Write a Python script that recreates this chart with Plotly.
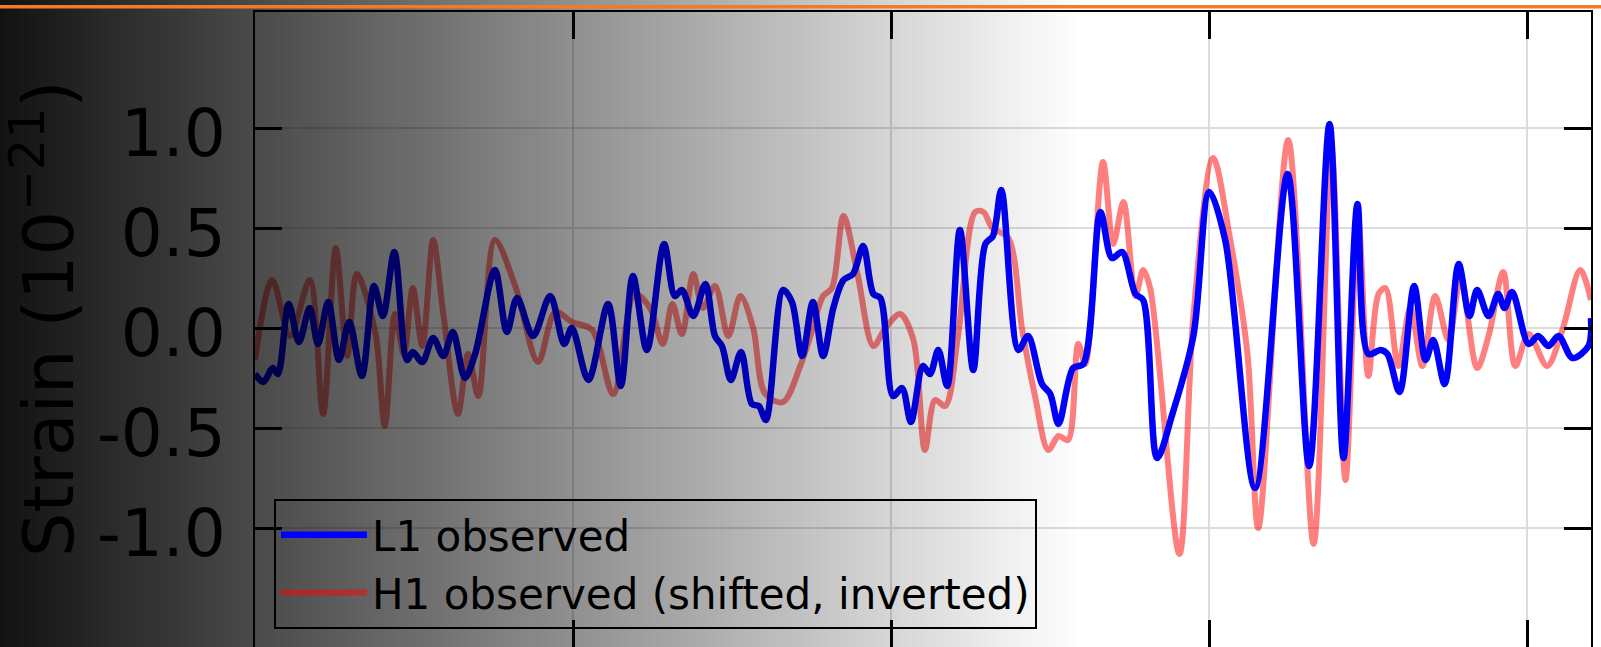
import plotly.graph_objects as go

# ---------------- data (time in ms, strain in 1e-21) ----------------
L1_t = [250.0, 251.3, 252.8, 253.6, 255.3, 256.9, 258.6, 259.9, 261.5, 263.2,
        264.8, 266.8, 268.7, 270.1, 271.9, 273.9, 274.8, 276.3, 278.0, 279.6,
        281.1, 283.0, 284.6, 287.7, 289.6, 291.2, 293.7, 296.4, 298.6, 299.8,
        302.4, 305.5, 307.5, 309.4, 311.6, 314.3, 316.0, 317.1, 318.9, 320.8,
        322.3, 323.4, 324.8, 326.4, 328.1, 329.2, 330.3, 333.0, 334.4, 336.0,
        337.7, 339.3, 340.9, 342.5, 344.0, 345.6, 347.2, 348.3, 350.3, 351.7,
        353.1, 355.0, 356.1, 357.4, 358.8, 360.8, 362.9, 364.8, 366.0, 367.3,
        370.0, 371.5, 373.7, 375.0, 376.3, 378.6, 380.2, 382.9, 384.7, 386.3,
        388.4, 389.6, 391.8, 394.2, 397.5, 400.0, 402.5, 407.2, 412.3, 415.7,
        418.9, 421.1, 423.3, 425.0, 426.9, 428.0, 429.9, 432.2, 434.0, 435.2,
        437.0, 439.2, 440.9, 442.1, 443.9, 445.4, 446.4, 447.6, 450.2, 451.7,
        453.3, 454.9, 457.1, 459.6, 460.0]
L1_strain = [-0.23, -0.27, -0.20, -0.23, 0.12, -0.07, 0.10, -0.08, 0.13, -0.16,
             0.03, -0.24, 0.21, 0.06, 0.38, -0.16, -0.12, -0.17, -0.05, -0.14,
             -0.02, -0.25, -0.13, 0.29, -0.02, 0.15, -0.04, 0.16, -0.08, 0.00,
             -0.26, 0.12, -0.29, 0.26, -0.11, 0.42, 0.16, 0.19, 0.06, 0.22,
             -0.04, -0.09, -0.26, -0.12, -0.38, -0.39, -0.46, 0.19, 0.13, -0.14,
             0.13, -0.14, 0.10, 0.24, 0.27, 0.41, 0.17, 0.15, -0.34, -0.30,
             -0.47, -0.19, -0.23, -0.11, -0.29, 0.49, -0.21, 0.42, 0.46, 0.69,
             -0.11, -0.04, -0.28, -0.33, -0.48, -0.20, -0.18, 0.58, 0.35, 0.38,
             0.17, 0.14, -0.65, -0.43, -0.04, 0.68, 0.44, -0.80, 0.77, -0.69,
             1.02, -0.65, 0.62, -0.13, -0.11, -0.13, -0.32, 0.21, -0.16, -0.06,
             -0.28, 0.32, 0.06, 0.19, 0.06, 0.17, 0.10, 0.18, -0.08, -0.04,
             -0.09, -0.04, -0.15, -0.09, 0.05]

H1_t = [250.0, 252.7, 255.5, 258.6, 260.7, 262.7, 264.5, 266.0, 268.9, 270.4,
        272.0, 273.4, 274.8, 276.3, 278.0, 279.6, 281.9, 283.5, 285.1, 287.7,
        290.9, 294.5, 297.2, 299.8, 303.0, 306.3, 309.7, 312.1, 314.1, 315.6,
        317.1, 318.9, 320.4, 322.3, 324.4, 326.3, 328.3, 330.2, 333.0, 335.7,
        337.3, 339.3, 340.7, 342.5, 344.7, 347.2, 349.1, 351.4, 353.5, 355.3,
        356.9, 358.5, 360.5, 363.2, 364.5, 365.9, 368.4, 370.6, 372.6, 374.7,
        376.3, 377.8, 379.4, 380.5, 383.3, 384.9, 386.5, 388.4, 389.6, 390.7,
        395.3, 397.5, 400.6, 403.3, 406.0, 407.7, 412.4, 416.4, 419.2, 421.4,
        423.4, 425.0, 426.6, 427.7, 429.7, 431.6, 433.5, 435.5, 437.6, 439.5,
        442.1, 443.9, 446.2, 448.1, 450.2, 453.1, 455.5, 458.3, 460.0]
H1_strain = [-0.16, 0.24, -0.04, 0.24, -0.43, 0.40, -0.14, 0.27, -0.02, -0.49,
             0.07, -0.13, 0.20, -0.09, 0.44, 0.07, -0.43, -0.13, -0.34, 0.44,
             0.21, -0.17, 0.08, 0.03, -0.01, -0.33, 0.17, 0.10, -0.08, 0.12,
             -0.03, 0.27, 0.10, 0.21, -0.04, 0.16, 0.00, -0.33, -0.37, -0.19,
             -0.04, 0.16, 0.20, 0.56, 0.27, -0.09, 0.00, 0.07, -0.06, -0.61,
             -0.36, -0.39, -0.04, 0.58, 0.58, 0.50, 0.45, -0.01, -0.34, -0.61,
             -0.54, -0.56, -0.08, -0.18, 0.83, 0.42, 0.63, 0.16, 0.29, 0.20,
             -1.13, 0.06, 0.85, 0.44, -0.13, -1.00, 0.94, -1.08, 0.90, -0.76,
             0.55, -0.24, 0.17, 0.20, -0.19, 0.10, -0.19, 0.16, -0.06, 0.25,
             -0.20, -0.04, 0.28, -0.19, -0.03, -0.19, -0.01, 0.29, 0.14]

y_tickvals = [-1.0, -0.5, 0.0, 0.5, 1.0]
y_ticktext = ["-1.0", "-0.5", "0.0", "0.5", "1.0"]
x_tickvals = [300, 350, 400, 450]

# ---------------- layout geometry ----------------
W, H = 1601, 647
ML, MR, MT, MB = 255, 10, 12, 0
PW, PH = W - ML - MR, H - MT - MB


def paper_x(px):
    return (px - ML) / PW


def paper_y(py):
    return (H - MB - py) / PH


FONT = "DejaVu Sans"

# horizontal dark-to-clear overlay drawn as thin translucent strips
STRIP = 3
FADE_END = 1080
overlay = []
for x0 in range(0, FADE_END, STRIP):
    xc = x0 + STRIP / 2
    a = 0.93 * max(0.0, 1 - xc / FADE_END)
    overlay.append(dict(
        type="rect", xref="paper", yref="paper",
        x0=paper_x(x0), x1=paper_x(x0 + STRIP),
        y0=paper_y(H + 5), y1=paper_y(-5),
        fillcolor=f"rgba(0,0,0,{a:.4f})", line=dict(width=0), layer="above",
    ))
orange_bar = dict(
    type="line", xref="paper", yref="paper",
    x0=paper_x(0), x1=paper_x(W), y0=paper_y(6.7), y1=paper_y(6.7),
    line=dict(color="#f47c20", width=3.5), layer="above",
)

fig = go.Figure()
fig.add_trace(go.Scatter(
    x=H1_t, y=H1_strain, mode="lines", name="H1 observed (shifted, inverted)",
    line=dict(color="rgba(255,0,0,0.5)", width=6, shape="spline", smoothing=0.9),
    legendrank=2, legendgroup="h1",
))
fig.add_trace(go.Scatter(
    x=L1_t, y=L1_strain, mode="lines", name="L1 observed",
    line=dict(color="#0000ff", width=6.5, shape="spline", smoothing=0.9),
    legendrank=1, legendgroup="l1",
))

axis_common = dict(
    showline=True, linecolor="black", linewidth=2, mirror="ticks",
    ticks="inside", ticklen=27, tickwidth=2.5, tickcolor="black",
    showgrid=True, gridcolor="#dcdcdc", gridwidth=2, zeroline=False,
)

fig.update_layout(
    width=W, height=H,
    margin=dict(l=ML, r=MR, t=MT, b=MB, pad=0),
    paper_bgcolor="white", plot_bgcolor="white",
    font=dict(family=FONT, color="black"),
    showlegend=True,
    legend=dict(
        x=paper_x(274), y=paper_y(499), xanchor="left", yanchor="top",
        bgcolor="rgba(0,0,0,0)", bordercolor="black", borderwidth=2,
        font=dict(family=FONT, size=42, color="black"),
        itemwidth=86, tracegroupgap=5, traceorder="normal",
    ),
    xaxis=dict(range=[250, 460], tickvals=x_tickvals, showticklabels=False,
               **axis_common),
    yaxis=dict(range=[-1.595, 1.58], tickvals=y_tickvals, ticktext=y_ticktext,
               tickfont=dict(family=FONT, size=66, color="black"),
               ticklabelstandoff=14, ticklabelshift=5, **axis_common),
    shapes=overlay + [orange_bar],
    annotations=[dict(
        text="Strain (10<sup>\u221221</sup>)", textangle=-90,
        xref="paper", yref="paper", x=paper_x(44), y=paper_y(319),
        xanchor="center", yanchor="middle", showarrow=False,
        font=dict(family=FONT, size=70, color="black"),
    )],
)

fig.write_html("out.html", config={"displayModeBar": False},
               post_script="document.body.style.margin='0';")
